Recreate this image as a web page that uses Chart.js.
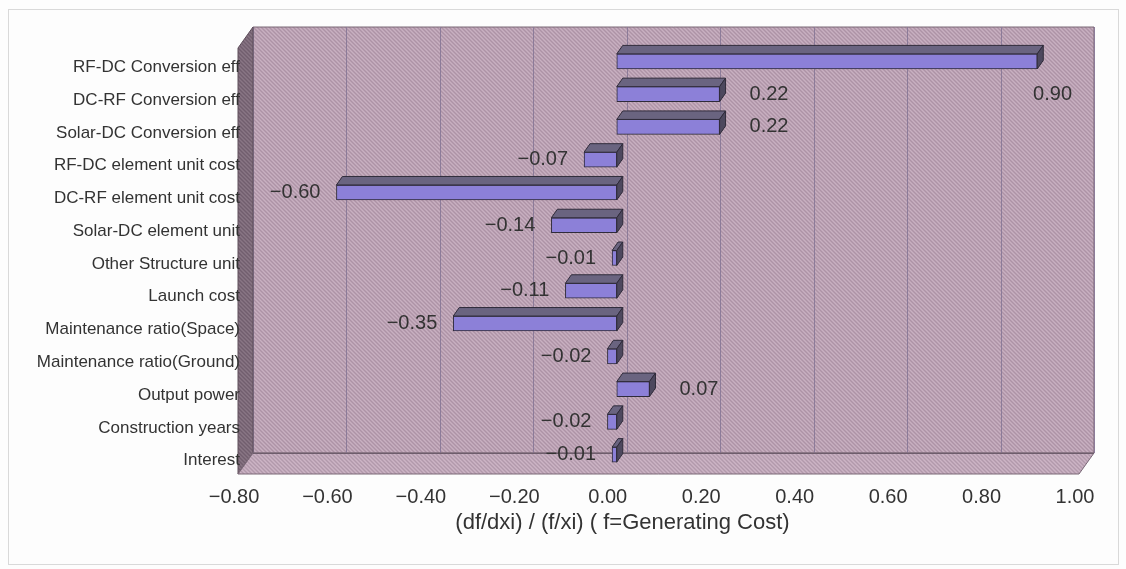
<!DOCTYPE html>
<html>
<head>
<meta charset="utf-8">
<script src="https://cdn.jsdelivr.net/npm/chart.js@4.4.1/dist/chart.umd.min.js"></script>
<style>
    html, body { margin: 0; padding: 0; background: #fff; }
    #wrap { width: 1126px; height: 569px; }
</style>
</head>
<body>
<div id="wrap"><canvas id="sens" width="1126" height="569"></canvas></div>
<script>
// ---- data ----
const categories = [
    'RF-DC Conversion eff',
    'DC-RF Conversion eff',
    'Solar-DC Conversion eff',
    'RF-DC element unit cost',
    'DC-RF element unit cost',
    'Solar-DC element unit',
    'Other Structure unit',
    'Launch cost',
    'Maintenance ratio(Space)',
    'Maintenance ratio(Ground)',
    'Output power',
    'Construction years',
    'Interest'
];
const values = [0.90, 0.22, 0.22, -0.07, -0.60, -0.14, -0.01, -0.11, -0.35, -0.02, 0.07, -0.02, -0.01];
const tickMin = -0.8;
const tickMax = 1.0;
const tickStep = 0.2;
const axisTitle = '(df/dxi) / (f/xi) ( f=Generating Cost)';

// ---- look ----
const FONT = '"Liberation Sans", Arial, sans-serif';
const BACK = { x: 10, y: -12 };   // back wall offset from bar front plane
const FRONT = { x: -5, y: 9 };    // floor front edge offset
const BAR_D = { x: 6, y: -8.5 };  // bar depth

const fmt = (v) => {
    if (Math.abs(v) < 1e-9) v = 0;
    return (v < 0 ? '\u2212' : '') + Math.abs(v).toFixed(2);
};

function hatch(base, light, dark) {
    const c = document.createElement('canvas');
    c.width = 4; c.height = 4;
    const g = c.getContext('2d');
    g.fillStyle = base; g.fillRect(0, 0, 4, 4);
    for (let i = 0; i < 4; i++) {
        g.fillStyle = light; g.fillRect(i, i, 1, 1);
        g.fillStyle = dark; g.fillRect((i + 2) % 4, i, 1, 1);
    }
    return g.createPattern(c, 'repeat');
}

function poly(ctx, pts, fill, stroke) {
    ctx.beginPath();
    pts.forEach((p, i) => i ? ctx.lineTo(p[0], p[1]) : ctx.moveTo(p[0], p[1]));
    ctx.closePath();
    if (fill) { ctx.fillStyle = fill; ctx.fill(); }
    if (stroke) { ctx.strokeStyle = stroke; ctx.lineWidth = 1; ctx.stroke(); }
}

const box3d = {
    id: 'box3d',
    beforeDraw(chart) {
        const { ctx, chartArea: a } = chart;
        const xs = chart.scales.x;
        ctx.save();
        ctx.fillStyle = '#fdfdfd';
        ctx.fillRect(0, 0, chart.width, chart.height);
        ctx.strokeStyle = '#d9d9d9';
        ctx.lineWidth = 1;
        ctx.strokeRect(8.5, 9.5, chart.width - 16, chart.height - 14);

        const topP = a.top - 6, floorP = a.bottom - 6;
        const bl = a.left + BACK.x, br = a.right + BACK.x;
        const bt = topP + BACK.y, bb = floorP + BACK.y;
        const fl = a.left + FRONT.x, fr = a.right + FRONT.x;
        const ft = topP + FRONT.y, fb = floorP + FRONT.y;

        // back wall
        poly(ctx, [[bl, bt], [br, bt], [br, bb], [bl, bb]], hatch('#bba1b3', '#c8b0c1', '#ad93a6'), '#7a6877');
        // gridlines
        ctx.strokeStyle = '#8c7b99';
        ctx.lineWidth = 1;
        xs.ticks.forEach(t => {
            const px = Math.round(xs.getPixelForValue(t.value) + BACK.x) + 0.5;
            ctx.beginPath(); ctx.moveTo(px, bt); ctx.lineTo(px, bb); ctx.stroke();
        });
        // side wall
        poly(ctx, [[bl, bt], [bl, bb], [fl, fb], [fl, ft]], hatch('#7d6a79', '#897685', '#715e6e'), '#5e4e5b');
        // floor
        poly(ctx, [[bl, bb], [br, bb], [fr, fb], [fl, fb]], hatch('#bfa6b8', '#ccb4c5', '#b199ab'), '#7a6877');
        ctx.strokeStyle = '#6e5d6c';
        ctx.beginPath(); ctx.moveTo(bl, bb + 0.5); ctx.lineTo(br, bb + 0.5); ctx.stroke();
        ctx.restore();
    },
    afterDatasetsDraw(chart) {
        const { ctx, chartArea: a } = chart;
        const meta = chart.getDatasetMeta(0);
        const ys = chart.scales.y;
        const band = ys.getPixelForValue(1) - ys.getPixelForValue(0);
        ctx.save();
        ctx.lineWidth = 1;
        meta.data.forEach((el) => {
            const p = el.getProps(['x', 'y', 'base', 'height'], true);
            const l = Math.min(p.x, p.base), r = Math.max(p.x, p.base);
            const t = p.y - p.height / 2, b = p.y + p.height / 2;
            poly(ctx, [[l, t], [r, t], [r + BAR_D.x, t + BAR_D.y], [l + BAR_D.x, t + BAR_D.y]], '#6a6480', '#2f2b3a');
            poly(ctx, [[r, t], [r + BAR_D.x, t + BAR_D.y], [r + BAR_D.x, b + BAR_D.y], [r, b]], '#4d485e', '#2f2b3a');
        });

        // value labels
        ctx.font = '20px ' + FONT;
        ctx.fillStyle = '#333';
        ctx.textBaseline = 'middle';
        meta.data.forEach((el, i) => {
            const v = values[i];
            const txt = fmt(v);
            const w = ctx.measureText(txt).width;
            let x = el.x, y = el.y;
            if (v >= 0) {
                x += 30;
                if (x + w > a.right - 12) { x = a.right - 12 - w; y += band; }
                ctx.textAlign = 'left';
            } else {
                x -= 16;
                ctx.textAlign = 'right';
            }
            ctx.fillText(txt, x, y);
        });
        ctx.restore();
    },
    afterDraw(chart) {
        // axis title, centred a bit left of the plot like the original
        const { ctx, chartArea: a } = chart;
        ctx.save();
        ctx.font = '22px ' + FONT;
        ctx.fillStyle = '#333';
        ctx.textAlign = 'center';
        ctx.textBaseline = 'middle';
        ctx.fillText(axisTitle, (a.left + a.right) / 2 - 41, a.bottom + 52);
        ctx.restore();
    }
};

new Chart(document.getElementById('sens'), {
    type: 'bar',
    data: {
        labels: categories,
        datasets: [{
            data: values,
            backgroundColor: '#8c80d8',
            borderColor: '#2f2b3a',
            borderWidth: 1,
            borderSkipped: false,
            barThickness: 15
        }]
    },
    options: {
        indexAxis: 'y',
        responsive: false,
        animation: false,
        devicePixelRatio: 1,
        layout: { padding: { top: 45, left: 10, right: 42, bottom: 63 } },
        plugins: {
            legend: { display: false },
            tooltip: { enabled: false },
            title: { display: false }
        },
        scales: {
            x: {
                type: 'linear',
                min: tickMin,
                max: tickMax,
                grid: { display: false, drawTicks: false },
                border: { display: false },
                ticks: {
                    stepSize: tickStep,
                    padding: 14,
                    labelOffset: -9,
                    color: '#333',
                    font: { family: FONT, size: 20 },
                    maxRotation: 0,
                    callback: (v) => fmt(v)
                },
                afterFit: (s) => { s.height = 35; }
            },
            y: {
                grid: { display: false, drawTicks: false },
                border: { display: false },
                ticks: {
                    autoSkip: false,
                    padding: 3,
                    labelOffset: 6,
                    color: '#333',
                    font: { family: FONT, size: 17 }
                },
                afterFit: (s) => { s.width = 233; }
            }
        }
    },
    plugins: [box3d]
});
</script>
</body>
</html>
